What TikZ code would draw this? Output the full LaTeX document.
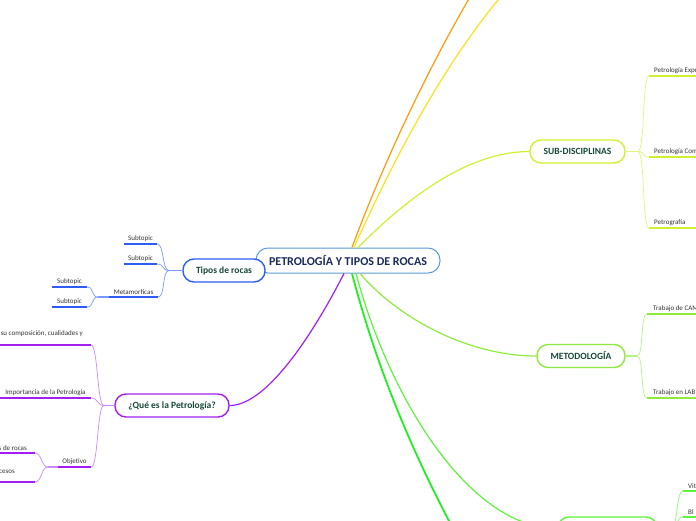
\documentclass[tikz,border=0pt]{standalone}
\usepackage{fontspec}
\setmainfont{Carlito}
\usetikzlibrary{calc,positioning}
\definecolor{rootline}{HTML}{5B9BD5}
\definecolor{roottext}{HTML}{1A2B5C}
\definecolor{topictext}{HTML}{17483A}
\definecolor{leaftext}{HTML}{333333}
\definecolor{bluedark}{HTML}{2D5DF5}
\definecolor{bluelight}{HTML}{7898FF}
\definecolor{purpdark}{HTML}{A21FF0}
\definecolor{purplight}{HTML}{C98AFF}
\definecolor{subdark}{HTML}{D2F032}
\definecolor{sublight}{HTML}{E2F57A}
\definecolor{metdark}{HTML}{8EEB3E}
\definecolor{metlight}{HTML}{B5F283}
\definecolor{botdark}{HTML}{5CF53A}
\definecolor{botlight}{HTML}{8CF87A}
\definecolor{deepgreen}{HTML}{22EE22}
\definecolor{orangebr}{HTML}{FF9A0A}
\definecolor{yellowbr}{HTML}{FFE01A}
\tikzset{
  root/.style={draw=rootline, line width=1pt, rounded corners=12pt, fill=white,
    text=roottext, font=\fontsize{12}{14}\selectfont\bfseries,
    minimum width=184pt, minimum height=25pt},
  topic/.style={line width=1.4pt, rounded corners=11pt, fill=white, text=topictext,
    font=\fontsize{9.5}{11}\selectfont\bfseries, minimum height=23pt},
  leaf/.style={text=leaftext, font=\fontsize{7}{8}\selectfont, inner xsep=4pt, inner ysep=2.5pt},
  uline/.style={line width=1.8pt},
  branch/.style={line width=1.2pt},
  twig/.style={line width=0.7pt,
    to path={.. controls ($(\tikztostart)+(7pt,0)$) and ($(\tikztotarget)+(-7pt,0)$) .. (\tikztotarget)}},
}

\begin{document}
\begin{tikzpicture}[x=1pt, y=-1pt]
  \useasboundingbox (0,0) rectangle (696,520);
  \clip (0,0) rectangle (696,520);

  % Central topic and main topics
  \node[root] (root) at (348,260.5) {PETROLOGÍA Y TIPOS DE ROCAS};
  \node[topic, draw=bluedark, minimum width=82pt] (tipos) at (224,270.5) {Tipos de rocas};
  \node[topic, draw=purpdark, minimum width=114pt] (que) at (172,405.5) {¿Qué es la Petrología?};
  \node[topic, draw=subdark, minimum width=95pt] (subd) at (577.5,151.5) {SUB-DISCIPLINAS};
  \node[topic, draw=metdark, minimum width=88pt] (meto) at (581,356) {METODOLOGÍA};
  \node[topic, draw=botdark, minimum width=99pt] (bott) at (607.5,528.5) {};

  % Free ends of the branches leaving the picture
  \coordinate (offtop1) at (480,-20);
  \coordinate (offtop2) at (520,-25);
  \coordinate (offbot) at (470,560);

  % Branches from the centre
  \draw[orangebr, branch] ([xshift=4pt]root.north) .. controls (375,185) and (420,80) .. (offtop1);
  \draw[yellowbr, branch] ([xshift=6pt]root.north) .. controls (380,190) and (440,60) .. (offtop2);
  \draw[subdark, branch] ([xshift=10pt]root.north) .. controls (410,195) and (470,151.5) .. (subd.west);
  \draw[purpdark, branch] ([xshift=-4pt]root.south) .. controls (310,340) and (265,405.5) .. (que.east);
  \draw[metdark, branch] ([xshift=12pt]root.south) .. controls (400,320) and (470,356) .. (meto.west);
  \draw[botdark, branch] ([xshift=8pt]root.south) .. controls (390,400) and (470,528.5) .. (bott.west);
  \draw[deepgreen, line width=1.8pt] ([xshift=4pt]root.south) .. controls (380,380) and (420,470) .. (offbot);

  % Tipos de rocas
  \node[leaf, minimum width=33pt, anchor=south] (tsub1) at (140.5,244) {Subtopic};
  \node[leaf, minimum width=33pt, anchor=south] (tsub2) at (140.5,264) {Subtopic};
  \node[leaf, minimum width=49pt, anchor=south] (tmeta) at (133.5,297) {Metamorficas};
  \node[leaf, minimum width=35pt, anchor=south] (msub1) at (69.5,287) {Subtopic};
  \node[leaf, minimum width=35pt, anchor=south] (msub2) at (69.5,307) {Subtopic};
  \coordinate (tfork) at (169,270.5);
  \coordinate (mfork) at (98,297);
  \foreach \n in {tsub1,tsub2,tmeta}
    \draw[bluelight, twig] (\n.south east) to (tfork);
  \foreach \n in {msub1,msub2}
    \draw[bluelight, twig] (\n.south east) to (mfork);
  \draw[bluelight, branch] (tfork) -- (tipos.west);
  \draw[bluelight, branch] (mfork) -- (tmeta.south west);
  \foreach \n in {tsub1,tsub2,tmeta,msub1,msub2}
    \draw[bluedark, uline] (\n.south west) -- (\n.south east);

  % ¿Qué es la Petrología?
  \node[leaf, anchor=south east, inner xsep=8pt, inner ysep=8pt] (qdef) at (91,345) {su composición, cualidades y};
  \node[leaf, minimum width=91pt, anchor=south] (qimp) at (45.5,398) {Importancia de la Petrología};
  \node[leaf, minimum width=33pt, anchor=south] (qobj) at (74.5,467) {Objetivo};
  \node[leaf, anchor=south east, inner xsep=8pt] (qobj1) at (35,453) {s de rocas};
  \node[leaf, anchor=south east, inner xsep=20pt, inner ysep=8pt] (qobj2) at (35,482) {cesos};
  \coordinate (qfork) at (104,405.5);
  \coordinate (ofork) at (48,467);
  \foreach \n in {qdef,qimp,qobj}
    \draw[purplight, twig] (\n.south east) to (qfork);
  \foreach \n in {qobj1,qobj2}
    \draw[purplight, twig] (\n.south east) to (ofork);
  \draw[purplight, branch] (qfork) -- (que.west);
  \draw[purplight, branch] (ofork) -- (qobj.south west);
  \draw[purpdark, uline] (qimp.south west) -- (qimp.south east);
  \draw[purpdark, uline] (qobj.south west) -- (qobj.south east);
  \foreach \n in {qdef,qobj1,qobj2}
    \draw[purpdark, uline] (\n.south east) -- ++(-110,0);

  % SUB-DISCIPLINAS
  \node[leaf, anchor=south west, inner xsep=5pt] (sexp) at (649,76) {Petrología Expe};
  \node[leaf, anchor=south west, inner xsep=5pt] (scom) at (649,157) {Petrología Com};
  \node[leaf, anchor=south west, inner xsep=5pt] (spet) at (649,228) {Petrografía};
  \coordinate (sfork) at (638,151.5);
  \draw[sublight, branch] (subd.east) -- (sfork);
  \foreach \n in {sexp,scom,spet} {
    \draw[sublight, twig] (sfork) to (\n.south west);
    \draw[subdark, uline] (\n.south west) -- ++(60,0);
  }

  % METODOLOGÍA
  \node[leaf, anchor=south west, inner xsep=6pt] (mcam) at (647,314) {Trabajo de CAM};
  \node[leaf, anchor=south west, inner xsep=6pt] (mlab) at (647,398) {Trabajo en LAB};
  \coordinate (mefork) at (637,356);
  \draw[metlight, branch] (meto.east) -- (mefork);
  \foreach \n in {mcam,mlab} {
    \draw[metlight, twig] (mefork) to (\n.south west);
    \draw[metdark, uline] (\n.south west) -- ++(60,0);
  }

  % Bottom topic
  \node[leaf, anchor=south west, inner xsep=5pt] (bvit) at (683,491) {Vit};
  \node[leaf, anchor=south west, inner xsep=5pt] (bbl) at (683,517) {Bl};
  \coordinate (bfork) at (671,528.5);
  \draw[botlight, branch] (bott.east) -- (bfork);
  \foreach \n in {bvit,bbl} {
    \draw[botlight, twig] (bfork) to (\n.south west);
    \draw[botdark, uline] (\n.south west) -- ++(60,0);
  }

\end{tikzpicture}
\end{document}
